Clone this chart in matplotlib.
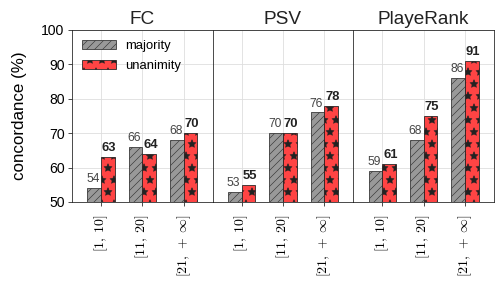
import numpy as np
import matplotlib
matplotlib.use('Agg')
import matplotlib.pyplot as plt

# 資料
panels = ['FC', 'PSV', 'PlayeRank']
bins = [r'$[1,\, 10]$', r'$[11,\, 20]$', r'$[21,\, +\,\infty]$']
majority = [[54, 66, 68], [53, 70, 76], [59, 68, 86]]
unanimity = [[63, 64, 70], [55, 70, 78], [61, 75, 91]]

plt.rcParams['font.family'] = ['Liberation Sans', 'DejaVu Sans']
plt.rcParams['mathtext.fontset'] = 'cm'
plt.rcParams['hatch.linewidth'] = 0.6

fig, axes = plt.subplots(1, 3, sharey=True, figsize=(7, 4), dpi=72)
fig.subplots_adjust(left=0.143, right=0.980, top=0.896, bottom=0.299, wspace=0)

x = np.arange(len(bins))
w = 0.33
for i, ax in enumerate(axes):
    b1 = ax.bar(x - w / 2, majority[i], w, color='#999999', edgecolor='#333333',
                hatch='///', linewidth=0.8, label='majority', zorder=3)
    b2 = ax.bar(x + w / 2, unanimity[i], w, color='#ff4444', edgecolor='#222222',
                hatch='*', linewidth=0.8, label='unanimity', zorder=3)
    # 長條上方數字
    for bar in b1:
        h = bar.get_height()
        ax.text(bar.get_x() + bar.get_width() / 2 - 0.03, h + 0.8, int(h), ha='center',
                va='bottom', fontsize=12, color='#444444')
    for bar in b2:
        h = bar.get_height()
        ax.text(bar.get_x() + bar.get_width() / 2 + 0.03, h + 0.8, int(h), ha='center',
                va='bottom', fontsize=13, fontweight='bold', color='#222222')
    ax.set_title(panels[i], fontsize=19, color='#222222')
    ax.set_xlim(-0.7, 2.7)
    ax.set_ylim(50, 100)
    ax.set_xticks(x)
    ax.set_xticklabels(bins, rotation=90, fontsize=14)
    ax.grid(True, color='#dddddd', linewidth=0.8, zorder=0)
    ax.tick_params(axis='both', direction='out', length=4, color='#222222')
    ax.tick_params(axis='x', pad=9)
    for s in ax.spines.values():
        s.set_color('#222222')
    if i > 0:
        ax.tick_params(axis='y', length=0)

axes[0].set_yticks([50, 60, 70, 80, 90, 100])
axes[0].tick_params(axis='y', labelsize=14)
axes[0].set_ylabel('concordance (%)', fontsize=17)
axes[0].yaxis.set_label_coords(-0.32, 0.5)
axes[0].legend(loc='upper left', fontsize=13, frameon=False, handlelength=2.6,
               handletextpad=0.7, borderaxespad=0.35, labelspacing=0.6)

plt.savefig('out.png', dpi=72)
